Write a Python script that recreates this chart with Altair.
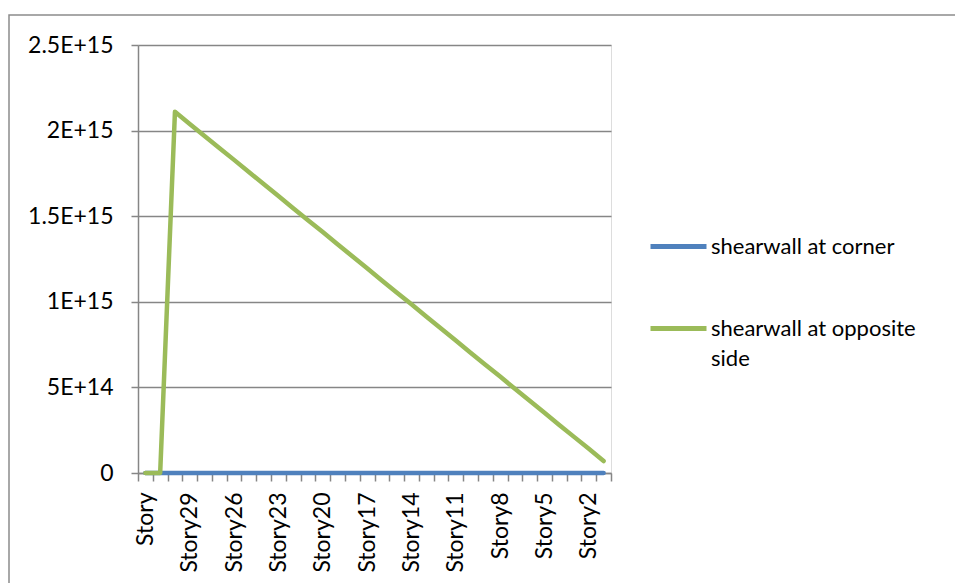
import json
import altair as alt
import pandas as pd

# Story levels along the category axis (roof first)
stories = ["Story"] + [f"Story{n}" for n in range(31, 0, -1)]

# Series values per story
corner = [0.0] * 32
opposite = [0.0, 0.0,
            2.110e15, 2.039e15, 1.969e15, 1.899e15, 1.829e15, 1.758e15,
            1.688e15, 1.618e15, 1.547e15, 1.477e15, 1.407e15, 1.336e15,
            1.266e15, 1.196e15, 1.125e15, 1.055e15, 0.985e15, 0.914e15,
            0.844e15, 0.774e15, 0.703e15, 0.633e15, 0.563e15, 0.492e15,
            0.422e15, 0.352e15, 0.281e15, 0.211e15, 0.141e15, 0.070e15]

series_names = ["shearwall at corner", "shearwall at opposite side"]
series_colors = ["#4F81BD", "#9BBB59"]
y_ticks = [0, 5e14, 1e15, 1.5e15, 2e15, 2.5e15]

# only every third story gets a label
shown_labels = stories[::3]

rows = []
for s, a, b in zip(stories, corner, opposite):
    rows.append({"story": s, "series": series_names[0], "value": a})
    rows.append({"story": s, "series": series_names[1], "value": b})
df = pd.DataFrame(rows)

FONT = "Lato"
FS = 23
GRID = "#868686"

x_label_expr = (
    f"indexof({json.dumps(shown_labels)}, datum.value) >= 0 ? datum.label : ''"
)
y_label_expr = "datum.value == 0 ? '0' : upper(format(datum.value, '.2~e'))"
legend_label_expr = (
    "datum.label == 'shearwall at opposite side' ? "
    "['shearwall at opposite', 'side'] : datum.label"
)

lines = alt.Chart(df).mark_line(strokeWidth=4.5, strokeCap="round", strokeJoin="round").encode(
    x=alt.X(
        "story:N",
        sort=stories,
        scale=alt.Scale(type="band", paddingInner=0, paddingOuter=0),
        axis=alt.Axis(
            title=None,
            labelAngle=-90,
            labelAlign="right",
            labelBaseline="middle",
            labelExpr=x_label_expr,
            labelOverlap=False,
            labelFont=FONT,
            labelFontSize=FS,
            labelColor="#000000",
            labelPadding=11,
            tickBand="extent",
            tickSize=8,
            tickColor=GRID,
            tickWidth=1.5,
            domainColor=GRID,
            domainWidth=1.5,
            grid=False,
        ),
    ),
    y=alt.Y(
        "value:Q",
        scale=alt.Scale(domain=[0, 2.5e15], nice=False),
        axis=alt.Axis(
            title=None,
            values=y_ticks,
            labelExpr=y_label_expr,
            labelFont=FONT,
            labelFontSize=FS,
            labelColor="#000000",
            labelPadding=18,
            tickSize=7,
            tickColor=GRID,
            tickWidth=1.5,
            domainColor=GRID,
            domainWidth=1.5,
            grid=True,
            gridColor=GRID,
            gridWidth=1.5,
        ),
    ),
    color=alt.Color(
        "series:N",
        sort=series_names,
        scale=alt.Scale(domain=series_names, range=series_colors),
        legend=alt.Legend(
            title=None,
            orient="none",
            legendX=510,
            legendY=171,
            symbolType="stroke",
            symbolSize=3136,
            symbolStrokeWidth=5,
            labelFont=FONT,
            labelFontSize=FS - 1,
            labelColor="#000000",
            labelLimit=400,
            labelOffset=2,
            labelExpr=legend_label_expr,
            rowPadding=40,
            padding=0,
        ),
    ),
    order=alt.Order("series:N"),
)

# outer frame around the whole figure
frame = alt.Chart(pd.DataFrame({"f": [0]})).mark_rect(
    fillOpacity=0, stroke="#8c8c8c", strokeWidth=1.5
).encode(
    x=alt.value(-129), x2=alt.value(830),
    y=alt.value(-30), y2=alt.value(550),
)

chart = alt.layer(frame, lines).properties(
    width=473,
    height=428,
    autosize=alt.AutoSizeParams(type="none"),
    padding={"left": 138, "top": 45, "right": 344, "bottom": 110},
    background="white",
).configure_view(stroke=None).configure(
    style={"guide-label": {"lineHeight": 30}}
)

chart.save("out.html", embed_options={"renderer": "svg", "actions": False})
